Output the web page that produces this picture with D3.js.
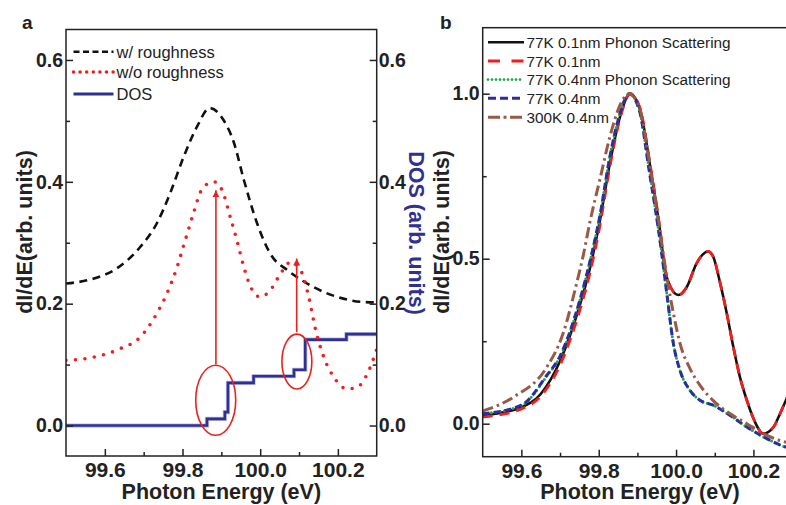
<!DOCTYPE html>
<html><head><meta charset="utf-8">
<script src="https://cdn.jsdelivr.net/npm/d3@7/dist/d3.min.js"></script>
<style>
html,body{margin:0;padding:0;background:#fff;}
svg{display:block;font-family:"Liberation Sans",Arial,Helvetica,sans-serif;}
</style></head>
<body><svg id="c" width="786" height="505"></svg>
<script>
// ---------- DATA ----------
const xMajorTicks = [99.6, 99.8, 100.0, 100.2];
const xMinorTicks = [99.7, 99.9, 100.1];
const xTickLabels = ["99.6", "99.8", "100.0", "100.2"];
const yaMajorTicks = [0, 0.2, 0.4, 0.6];
const yaMinorTicks = [0.1, 0.3, 0.5];
const yaTickLabels = ["0.0", "0.2", "0.4", "0.6"];
const ybMajorTicks = [0, 0.5, 1.0];
const ybMinorTicks = [0.25, 0.75];
const ybTickLabels = ["0.0", "0.5", "1.0"];

// panel a
const withRough = [[99.5,0.233],[99.57,0.241],[99.631,0.258],[99.691,0.293],[99.734,0.332],[99.768,0.381],[99.803,0.441],[99.837,0.49],[99.87,0.521],[99.906,0.501],[99.932,0.465],[99.958,0.403],[99.992,0.332],[100.026,0.282],[100.07,0.255],[100.087,0.247],[100.138,0.227],[100.199,0.211],[100.259,0.203],[100.3,0.202]];
const withoutRough = [[99.5,0.107],[99.57,0.112],[99.639,0.126],[99.691,0.145],[99.734,0.184],[99.76,0.217],[99.786,0.26],[99.805,0.30],[99.828,0.348],[99.846,0.383],[99.865,0.397],[99.881,0.40],[99.902,0.386],[99.923,0.342],[99.94,0.304],[99.958,0.26],[99.975,0.228],[100.0,0.211],[100.026,0.222],[100.052,0.249],[100.078,0.268],[100.104,0.255],[100.125,0.211],[100.143,0.156],[100.164,0.112],[100.19,0.079],[100.224,0.06],[100.25,0.063],[100.276,0.085],[100.3,0.125]];
const dos = [[99.5,0],[99.863,0.011],[99.909,0.022],[99.917,0.07],[99.983,0.081],[100.087,0.0915],[100.116,0.141],[100.222,0.15],[100.3,0.15]];
const arrows = [[99.886,0.100,0.386],[100.094,0.153,0.274]];        // x, from, to
const ellipses = [[99.834,99.937,-0.016,0.099],[100.056,100.133,0.06,0.150]]; // x0,x1,y0,y1

// panel b
const k77_01_ph = [[99.5,0.025],[99.6,0.05],[99.65,0.09],[99.7,0.19],[99.75,0.355],[99.777,0.47],[99.803,0.615],[99.829,0.79],[99.855,0.93],[99.881,1.0],[99.907,0.952],[99.933,0.78],[99.959,0.58],[99.971,0.47],[99.984,0.418],[100.006,0.39],[100.028,0.415],[100.053,0.486],[100.083,0.522],[100.096,0.506],[100.114,0.426],[100.131,0.335],[100.148,0.233],[100.165,0.142],[100.183,0.071],[100.2,0.016],[100.226,-0.03],[100.252,-0.01],[100.269,0.031],[100.284,0.071],[100.3,0.115]];
const k77_01 = [[99.5,0.02],[99.6,0.045],[99.65,0.083],[99.7,0.178],[99.75,0.34],[99.777,0.455],[99.803,0.6],[99.829,0.78],[99.855,0.925],[99.882,1.0],[99.907,0.955],[99.933,0.785],[99.959,0.585],[99.971,0.47],[99.984,0.418],[100.006,0.39],[100.028,0.415],[100.053,0.486],[100.083,0.522],[100.096,0.506],[100.114,0.426],[100.131,0.335],[100.148,0.233],[100.165,0.142],[100.183,0.071],[100.2,0.016],[100.226,-0.03],[100.252,-0.01],[100.269,0.031],[100.284,0.071],[100.3,0.115]];
const k77_04_ph = [[99.5,0.03],[99.6,0.055],[99.666,0.145],[99.7,0.203],[99.75,0.368],[99.777,0.49],[99.803,0.63],[99.829,0.81],[99.855,0.94],[99.879,1.0],[99.905,0.95],[99.93,0.775],[99.959,0.55],[99.976,0.395],[99.993,0.243],[100.01,0.162],[100.036,0.101],[100.062,0.071],[100.096,0.056],[100.14,0.025],[100.183,-0.01],[100.226,-0.04],[100.284,-0.071],[100.3,-0.076]];
const k77_04 = [[99.5,0.03],[99.6,0.056],[99.666,0.147],[99.7,0.205],[99.75,0.37],[99.777,0.49],[99.803,0.63],[99.829,0.81],[99.855,0.94],[99.879,1.0],[99.905,0.95],[99.93,0.77],[99.959,0.55],[99.976,0.395],[99.993,0.243],[100.01,0.162],[100.036,0.101],[100.062,0.071],[100.096,0.056],[100.14,0.025],[100.183,-0.01],[100.226,-0.04],[100.284,-0.071],[100.3,-0.076]];
const k300_04 = [[99.5,0.038],[99.58,0.081],[99.666,0.172],[99.708,0.274],[99.743,0.426],[99.76,0.51],[99.777,0.61],[99.803,0.74],[99.829,0.87],[99.855,0.965],[99.878,1.0],[99.905,0.96],[99.93,0.8],[99.959,0.58],[99.976,0.446],[99.993,0.335],[100.01,0.244],[100.036,0.167],[100.062,0.116],[100.096,0.07],[100.14,0.03],[100.183,0.0],[100.226,-0.03],[100.284,-0.056],[100.3,-0.06]];

const legendA = ["w/ roughness", "w/o roughness", "DOS"];
const legendB = ["77K 0.1nm Phonon Scattering", "77K 0.1nm", "77K 0.4nm Phonon Scattering", "77K 0.4nm", "300K 0.4nm"];

// ---------- DRAW ----------
const svg = d3.select("#c");
const FONT_TICK_Y = 19.5, FONT_TICK_X = 21;

const xa = d3.scaleLinear().domain([99.5, 100.3]).range([66, 376.7]);
const ya = d3.scaleLinear().domain([-0.05, 0.65]).range([456, 29.5]);
const xb = d3.scaleLinear().domain([99.5, 100.3]).range([482.7, 792.1]);
const yb = d3.scaleLinear().domain([-0.1, 1.2]).range([456.7, 27.7]);

function styleAxis(g, size){
  g.select(".domain").remove();
  g.selectAll(".tick line").attr("stroke","#222").attr("stroke-width",1.5);
  g.selectAll(".tick text").attr("fill","#222").attr("font-weight","bold").attr("font-size",size).attr("font-family",'"Liberation Sans",Arial,sans-serif');
}

function axes(x, y, yMaj, yMin, yLab, withRight){
  const [x0,x1] = x.range(); const [y0,y1] = y.range();
  svg.append("g").attr("transform",`translate(0,${y0})`)
    .call(d3.axisBottom(x).tickValues(xMajorTicks).tickSize(-7).tickPadding(6).tickFormat((d,i)=>xTickLabels[i]))
    .call(g=>styleAxis(g,FONT_TICK_X));
  svg.append("g").attr("transform",`translate(0,${y0})`)
    .call(d3.axisBottom(x).tickValues(xMinorTicks).tickSize(-4).tickFormat(""))
    .call(g=>styleAxis(g,FONT_TICK_X));
  svg.append("g").attr("transform",`translate(${x0},0)`)
    .call(d3.axisLeft(y).tickValues(yMaj).tickSize(-7).tickPadding(3).tickFormat((d,i)=>yLab[i]))
    .call(g=>styleAxis(g,FONT_TICK_Y));
  svg.append("g").attr("transform",`translate(${x0},0)`)
    .call(d3.axisLeft(y).tickValues(yMin).tickSize(-4).tickFormat(""))
    .call(g=>styleAxis(g,FONT_TICK_Y));
  if(withRight){
    svg.append("g").attr("transform",`translate(${x1},0)`)
      .call(d3.axisRight(y).tickValues(yMaj).tickSize(-7).tickPadding(2).tickFormat((d,i)=>yLab[i]))
      .call(g=>styleAxis(g,FONT_TICK_Y));
    svg.append("g").attr("transform",`translate(${x1},0)`)
      .call(d3.axisRight(y).tickValues(yMin).tickSize(-4).tickFormat(""))
      .call(g=>styleAxis(g,FONT_TICK_Y));
  }
  svg.append("rect").attr("x",x0).attr("y",y1).attr("width",x1-x0).attr("height",y0-y1)
    .attr("fill","none").attr("stroke","#222").attr("stroke-width",1.5);
}

const defs = svg.append("defs");
defs.append("clipPath").attr("id","clipA").append("rect")
  .attr("x",xa.range()[0]).attr("y",ya.range()[1]).attr("width",xa.range()[1]-xa.range()[0]).attr("height",ya.range()[0]-ya.range()[1]);
defs.append("clipPath").attr("id","clipB").append("rect")
  .attr("x",xb.range()[0]).attr("y",yb.range()[1]).attr("width",xb.range()[1]-xb.range()[0]).attr("height",yb.range()[0]-yb.range()[1]);
defs.append("marker").attr("id","arrowhead").attr("viewBox","0 0 10 10").attr("refX",10).attr("refY",5)
  .attr("markerWidth",7).attr("markerHeight",8).attr("markerUnits","userSpaceOnUse").attr("orient","auto")
  .append("path").attr("d","M0,0L10,5L0,10Z").attr("fill","#e8231f");

// ----- Panel a -----
const lineA = d3.line().x(d=>xa(d[0])).y(d=>ya(d[1])).curve(d3.curveMonotoneX);
const stepA = d3.line().x(d=>xa(d[0])).y(d=>ya(d[1])).curve(d3.curveStepAfter);
const gA = svg.append("g").attr("clip-path","url(#clipA)");
gA.append("path").datum(dos).attr("d", stepA)
  .attr("fill","none").attr("stroke","#8f93d0").attr("stroke-width",4.2).attr("opacity",0.6);
gA.append("path").datum(dos).attr("d", stepA)
  .attr("fill","none").attr("stroke","#2e3192").attr("stroke-width",2.6);
gA.append("path").datum(withRough).attr("d",lineA).attr("fill","none").attr("stroke","#111")
  .attr("stroke-width",2.6).attr("stroke-dasharray","8,5.5");
gA.append("path").datum(withoutRough).attr("d",lineA).attr("fill","none").attr("stroke","#f41c1c")
  .attr("stroke-width",3.6).attr("stroke-linecap","round").attr("stroke-dasharray","0,9.5");
arrows.forEach(a=>{
  gA.append("line").attr("x1",xa(a[0])).attr("x2",xa(a[0])).attr("y1",ya(a[1])).attr("y2",ya(a[2]))
    .attr("stroke","#e8231f").attr("stroke-width",1.6).attr("marker-end","url(#arrowhead)");
});
ellipses.forEach(e=>{
  gA.append("ellipse").attr("cx",(xa(e[0])+xa(e[1]))/2).attr("cy",(ya(e[2])+ya(e[3]))/2)
    .attr("rx",(xa(e[1])-xa(e[0]))/2).attr("ry",(ya(e[2])-ya(e[3]))/2)
    .attr("fill","none").attr("stroke","#e8231f").attr("stroke-width",1.6);
});
axes(xa, ya, yaMajorTicks, yaMinorTicks, yaTickLabels, true);

const legAStyles = [
  {stroke:"#111", w:2.6, dash:"6,3.5", cap:"butt"},
  {stroke:"#f41c1c", w:3.6, dash:"0,6.6", cap:"round"},
  {stroke:"#2e3192", w:3, dash:null, cap:"butt"}
];
const legAY = [51.7, 72, 94];
legendA.forEach((t,i)=>{
  const s = legAStyles[i];
  svg.append("line").attr("x1",73.5).attr("x2",113.5).attr("y1",legAY[i]).attr("y2",legAY[i])
    .attr("stroke",s.stroke).attr("stroke-width",s.w).attr("stroke-dasharray",s.dash).attr("stroke-linecap",s.cap);
  svg.append("text").attr("x",116.5).attr("y",legAY[i]).attr("dy","0.36em").attr("font-size",16.5)
    .attr("fill","#222").text(t);
});

svg.append("text").attr("x",22).attr("y",28.5).attr("font-size",19).attr("font-weight","bold").attr("fill","#222").text("a");
svg.append("text").attr("transform","translate(32,232) rotate(-90)").attr("text-anchor","middle")
  .attr("font-size",21.5).attr("font-weight","bold").attr("fill","#222").text("dI/dE(arb. units)");
svg.append("text").attr("transform","translate(409,233) rotate(90)").attr("text-anchor","middle")
  .attr("font-size",21.5).attr("font-weight","bold").attr("fill","#2e3192").text("DOS (arb. units)");
svg.append("text").attr("x",(xa.range()[0]+xa.range()[1])/2).attr("y",498.5).attr("text-anchor","middle")
  .attr("font-size",21.5).attr("font-weight","bold").attr("fill","#222").text("Photon Energy (eV)");

// ----- Panel b -----
const lineB = d3.line().x(d=>xb(d[0])).y(d=>yb(d[1])).curve(d3.curveMonotoneX);
const seriesB = [
  {data:k77_01_ph, stroke:"#111",    w:2.6, dash:null,         cap:"butt",  ldash:null,           lw:2.6},
  {data:k77_01,    stroke:"#f41c1c", w:2.8, dash:"10,7",       cap:"butt",  ldash:"12,11.5",      lw:2.8},
  {data:k77_04_ph, stroke:"#1aa84a", w:3,   dash:"0,4.4",      cap:"round", ldash:"0,4",          lw:2.8},
  {data:k77_04,    stroke:"#2b2f9e", w:3,   dash:"7,4",        cap:"butt",  ldash:"8,4",          lw:3},
  {data:k300_04,   stroke:"#9a5846", w:3,   dash:"11,4,2.5,4", cap:"butt",  ldash:"12,3.5,3,3.5", lw:3}
];
const gB = svg.append("g").attr("clip-path","url(#clipB)");
seriesB.forEach(s=>{
  gB.append("path").datum(s.data).attr("d",lineB).attr("fill","none").attr("stroke",s.stroke)
    .attr("stroke-width",s.w).attr("stroke-dasharray",s.dash).attr("stroke-linecap",s.cap);
});
axes(xb, yb, ybMajorTicks, ybMinorTicks, ybTickLabels, false);

const legBY = [42.3, 61, 79.6, 98.3, 117.2];
legendB.forEach((t,i)=>{
  const s = seriesB[i];
  svg.append("line").attr("x1",488).attr("x2",524).attr("y1",legBY[i]).attr("y2",legBY[i])
    .attr("stroke",s.stroke).attr("stroke-width",s.lw).attr("stroke-dasharray",s.ldash).attr("stroke-linecap",s.cap);
  svg.append("text").attr("x",526.5).attr("y",legBY[i]).attr("dy","0.36em").attr("font-size",15.3)
    .attr("fill","#222").text(t);
});
svg.append("text").attr("x",440).attr("y",28.5).attr("font-size",19).attr("font-weight","bold").attr("fill","#222").text("b");
svg.append("text").attr("transform","translate(449,232) rotate(-90)").attr("text-anchor","middle")
  .attr("font-size",21.5).attr("font-weight","bold").attr("fill","#222").text("dI/dE(arb. units)");
svg.append("text").attr("x",640).attr("y",498.5).attr("text-anchor","middle")
  .attr("font-size",21.5).attr("font-weight","bold").attr("fill","#222").text("Photon Energy (eV)");
</script></body></html>
